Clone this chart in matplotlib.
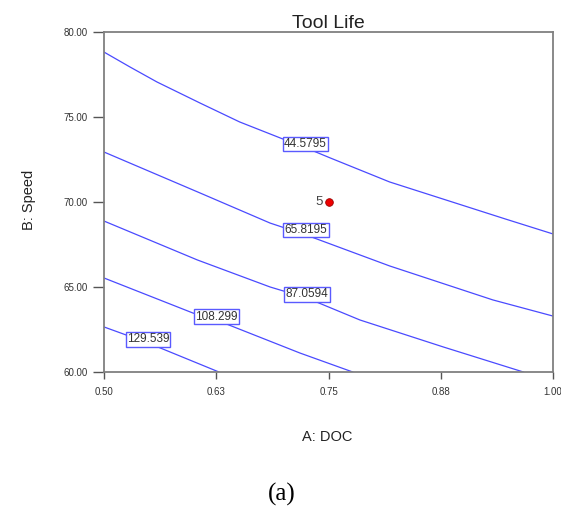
import numpy as np
import matplotlib.pyplot as plt

# contour lines: x = A: DOC, y = B: Speed
levels = ["44.5795", "65.8195", "87.0594", "108.299", "129.539"]

doc_1 = [0.500, 0.529, 0.559, 0.607, 0.651, 0.699, 0.725, 0.752, 0.818, 0.947, 1.000]
spd_1 = [78.82, 77.94, 77.06, 75.82, 74.71, 73.71, 73.18, 72.59, 71.18, 69.00, 68.12]

doc_2 = [0.500, 0.607, 0.685, 0.725, 0.818, 0.933, 1.000]
spd_2 = [72.94, 70.53, 68.76, 68.06, 66.24, 64.24, 63.29]

doc_3 = [0.500, 0.604, 0.685, 0.726, 0.785, 0.878, 0.967]
spd_3 = [68.88, 66.59, 65.00, 64.35, 63.06, 61.47, 60.00]

doc_4 = [0.500, 0.599, 0.625, 0.718, 0.777]
spd_4 = [65.53, 63.47, 63.06, 61.12, 60.00]

doc_5 = [0.500, 0.549, 0.628]
spd_5 = [62.65, 61.71, 60.00]

# where the level labels sit on each line
label_doc = [0.724, 0.725, 0.726, 0.625, 0.549]
label_spd = [73.41, 68.35, 64.56, 63.26, 61.92]

# design point (centre, 5 runs)
pt_doc = [0.75]
pt_spd = [70.0]
pt_count = "5"

x_ticks = [0.5, 0.625, 0.75, 0.875, 1.0]
x_ticklabels = ["0.50", "0.63", "0.75", "0.88", "1.00"]
y_ticks = [60, 65, 70, 75, 80]
y_ticklabels = ["60.00", "65.00", "70.00", "75.00", "80.00"]

plt.rcParams['font.family'] = ['Liberation Sans', 'DejaVu Sans']

fig = plt.figure(figsize=(5.61, 5.07), dpi=100)
ax = fig.add_axes([104/561, 1-372/507, 449/561, 340/507])

line_col = '#4a4aff'
lines = [(doc_1, spd_1), (doc_2, spd_2), (doc_3, spd_3), (doc_4, spd_4), (doc_5, spd_5)]
for xs, ys in lines:
    ax.plot(xs, ys, color=line_col, lw=0.9, zorder=2)

for lab, lx, ly in zip(levels, label_doc, label_spd):
    ax.text(lx, ly, lab, fontsize=8.5, color='#333333', ha='center', va='center', zorder=4,
            bbox=dict(boxstyle='square,pad=0.1', fc='white', ec='#5a5aff', lw=1.0))

ax.plot(pt_doc, pt_spd, 'o', color='#ee0000', mec='#990000', mew=0.6, ms=5.5, zorder=5)
ax.text(pt_doc[0] - 0.006, pt_spd[0], pt_count, fontsize=9.5, color='#444444',
        ha='right', va='center', zorder=5)

ax.set_xlim(0.5, 1.0)
ax.set_ylim(60, 80)
ax.set_xticks(x_ticks)
ax.set_xticklabels(x_ticklabels)
ax.set_yticks(y_ticks)
ax.set_yticklabels(y_ticklabels)
ax.tick_params(axis='x', direction='out', length=5, width=1, color='#555555',
               labelsize=7, labelcolor='#333333', pad=6)
ax.tick_params(axis='y', direction='out', length=8, width=1, color='#555555',
               labelsize=7, labelcolor='#333333', pad=4)
for sp in ax.spines.values():
    sp.set_color('#808080')
    sp.set_linewidth(1.3)

ax.set_title("Tool Life", fontsize=14, color='#222222', pad=2)
fig.text(327/561, 1-437/507, "A: DOC", fontsize=10.5, ha='center', va='center', color='#222222')
fig.text(29/561, 1-200/507, "B: Speed", fontsize=10.5, ha='center', va='center',
         rotation=90, color='#222222')
fig.text(282/561, 1-494/507, "(a)", fontsize=18, ha='center', va='center',
         family=['Liberation Serif', 'DejaVu Serif'], color='black')

fig.savefig("out.png", dpi=100)
